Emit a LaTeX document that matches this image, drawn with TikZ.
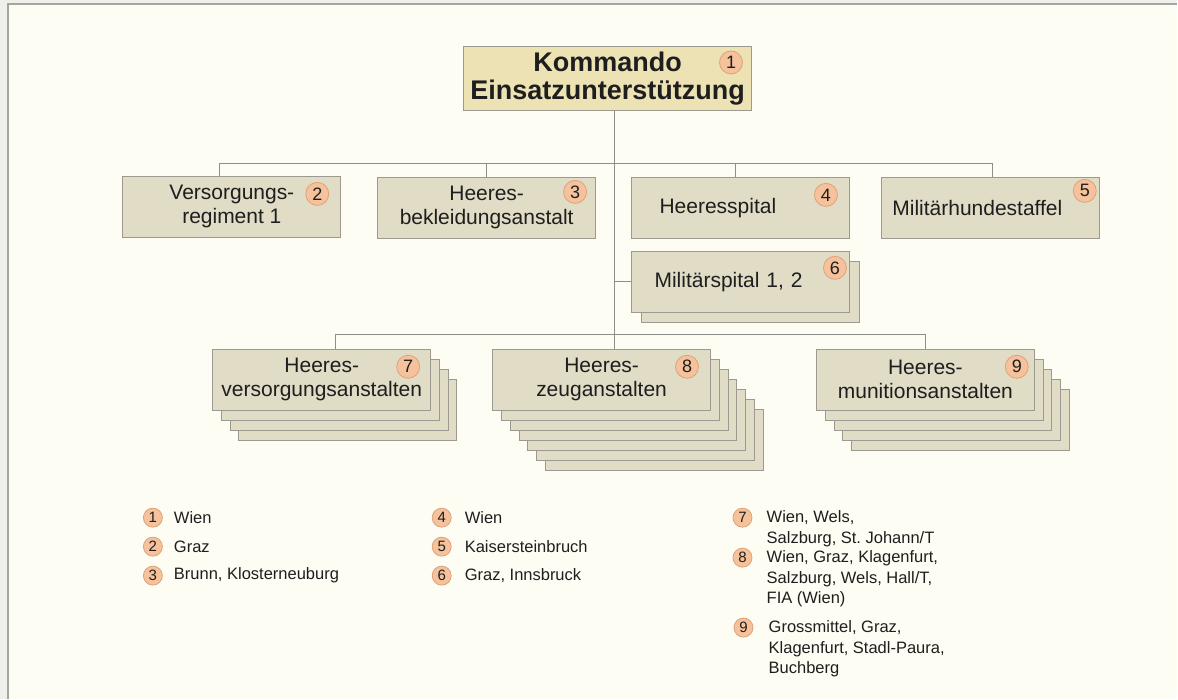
\documentclass[tikz,border=0pt]{standalone}
\usepackage{fontspec}
\setmainfont{Liberation Sans}
\frenchspacing
\usetikzlibrary{positioning}
\definecolor{Paper}{HTML}{FDFDF3}
\definecolor{Margin}{HTML}{EFEFEC}
\definecolor{Frame}{HTML}{A5A5A0}
\definecolor{Unit}{HTML}{E1DCC6}
\definecolor{Head}{HTML}{EDE2B4}
\definecolor{Edge}{HTML}{9C9A90}
\definecolor{Wire}{HTML}{8E8E8A}
\definecolor{Peach}{HTML}{F5C29C}
\definecolor{PeachEdge}{HTML}{DDA27C}
\definecolor{Ink}{HTML}{1E1E1E}
\tikzset{
  every node/.append style={text=Ink},
  unit/.style={draw=Edge, line width=1pt, fill=Unit, minimum width=218pt,
               minimum height=61pt, align=center, inner sep=0pt,
               font=\fontsize{21}{24}\selectfont},
  head/.style={unit, fill=Head, minimum width=288pt, minimum height=64pt,
               font=\bfseries\fontsize{27}{28}\selectfont},
  num/.style={circle, draw=PeachEdge, line width=0.8pt, fill=Peach,
              minimum size=23pt, inner sep=0pt, font=\fontsize{18}{18}\selectfont},
  keynum/.style={num, minimum size=19pt, font=\fontsize{15}{15}\selectfont},
  keytext/.style={font=\fontsize{16.5}{20.5}\selectfont, align=left, inner sep=0pt},
  link/.style={draw=Wire, line width=1.1pt},
}

\begin{document}
\begin{tikzpicture}[x=1pt, y=-1pt, node distance=6pt]
  % paper with its frame
  \fill[Margin] (0,0) rectangle (1178,699);
  \fill[Paper] (8,4) rectangle (1178,699);
  \draw[Frame, line width=1.6pt] (8,699) -- (8,4) -- (1178,4);
  \useasboundingbox (0,0) rectangle (1178,699);

  % command
  \node[head] (top) at (608,79) {Kommando\\Einsatzunterstützung};
  \node[num] (n1) at ([shift={(-21,16)}]top.north east) {1};

  % first row
  \node[unit] (b2) at (232,207) {Versorgungs-\\regiment 1};
  \node[unit] (b3) at (487,208) {Heeres-\\bekleidungsanstalt};
  \node[unit, text width=162pt, align=left] (b4) at (741,208) {Heeresspital};
  \node[unit, text width=196pt, align=left] (b5) at (991,208) {Militärhundestaffel};
  \node[num] (n2) at ([shift={(-24,18)}]b2.north east) {2};
  \node[num] (n3) at ([shift={(-21,15)}]b3.north east) {3};
  \node[num] (n4) at ([shift={(-24,18)}]b4.north east) {4};
  \node[num] (n5) at ([shift={(-15,14)}]b5.north east) {5};

  % hospitals, two of them
  \coordinate (c6) at (741,282);
  \node[unit] at ([shift={(10,10)}]c6) {};
  \node[unit, text width=172pt, align=left] (b6) at (c6) {Militärspital 1, 2};
  \node[num] (n6) at ([shift={(-15,17)}]b6.north east) {6};

  % depots, stacked
  \coordinate (c7) at (322,380);
  \coordinate (c8) at (602,380);
  \coordinate (c9) at (926,380);
  \foreach \k in {3,2,1}
    \node[unit] at ([shift={(\k*8.7,\k*10)}]c7) {};
  \foreach \k in {6,5,...,1}
    \node[unit] at ([shift={(\k*8.8,\k*10)}]c8) {};
  \foreach \k in {4,3,2,1}
    \node[unit] at ([shift={(\k*8.8,\k*10)}]c9) {};
  \node[unit] (b7) at (c7) {Heeres-\\versorgungsanstalten};
  \node[unit] (b8) at (c8) {Heeres-\\zeuganstalten};
  \node[unit] (b9) at (c9) {Heeres-\\munitionsanstalten};
  \node[num] (n7) at ([shift={(-23,18)}]b7.north east) {7};
  \node[num] (n8) at ([shift={(-24,18)}]b8.north east) {8};
  \node[num] (n9) at ([shift={(-18,18)}]b9.north east) {9};

  % lines
  \coordinate (j1) at (615,164);
  \coordinate (j2) at (615,335);
  \draw[link] (top.south -| j1) -- (j2) -- (b8.north -| j2);
  \draw[link] ([xshift=-12pt]b2.north) |- (j1) -| ([xshift=2pt]b5.north);
  \draw[link] (b3.north) -- (b3.north |- j1);
  \draw[link] ([xshift=-5pt]b4.north) -- ([xshift=-5pt]b4.north |- j1);
  \draw[link] (j1 |- b6.west) -- (b6.west);
  \draw[link] ([xshift=14pt]b7.north) |- (j2) -| (b9.north);

  % key
  \node[keynum] (k1) at (153,518) {1};
  \node[keynum] (k2) at (153,547) {2};
  \node[keynum] (k3) at (153,576) {3};
  \node[keytext, right=11pt of k1] (t1) {Wien};
  \node[keytext, right=11pt of k2] (t2) {Graz};
  \node[keytext, right=11pt of k3] (t3) {Brunn, Klosterneuburg};

  \node[keynum] (k4) at (442,518) {4};
  \node[keynum] (k5) at (442,547) {5};
  \node[keynum] (k6) at (442,576) {6};
  \node[keytext, right=13pt of k4] (t4) {Wien};
  \node[keytext, right=13pt of k5] (t5) {Kaisersteinbruch};
  \node[keytext, right=13pt of k6] (t6) {Graz, Innsbruck};

  \node[keynum] (k7) at (743,518) {7};
  \node[keynum] (k8) at (743,558) {8};
  \node[keynum] (k9) at (744,628) {9};
  \node[keytext, anchor=north west] (t7) at (767,511) {Wien, Wels,\\Salzburg, St. Johann/T};
  \node[keytext, anchor=north west] (t8) at (767,551) {Wien, Graz, Klagenfurt,\\Salzburg, Wels, Hall/T,\\FIA (Wien)};
  \node[keytext, anchor=north west] (t9) at (769,621) {Grossmittel, Graz,\\Klagenfurt, Stadl-Paura,\\Buchberg};
\end{tikzpicture}
\end{document}
